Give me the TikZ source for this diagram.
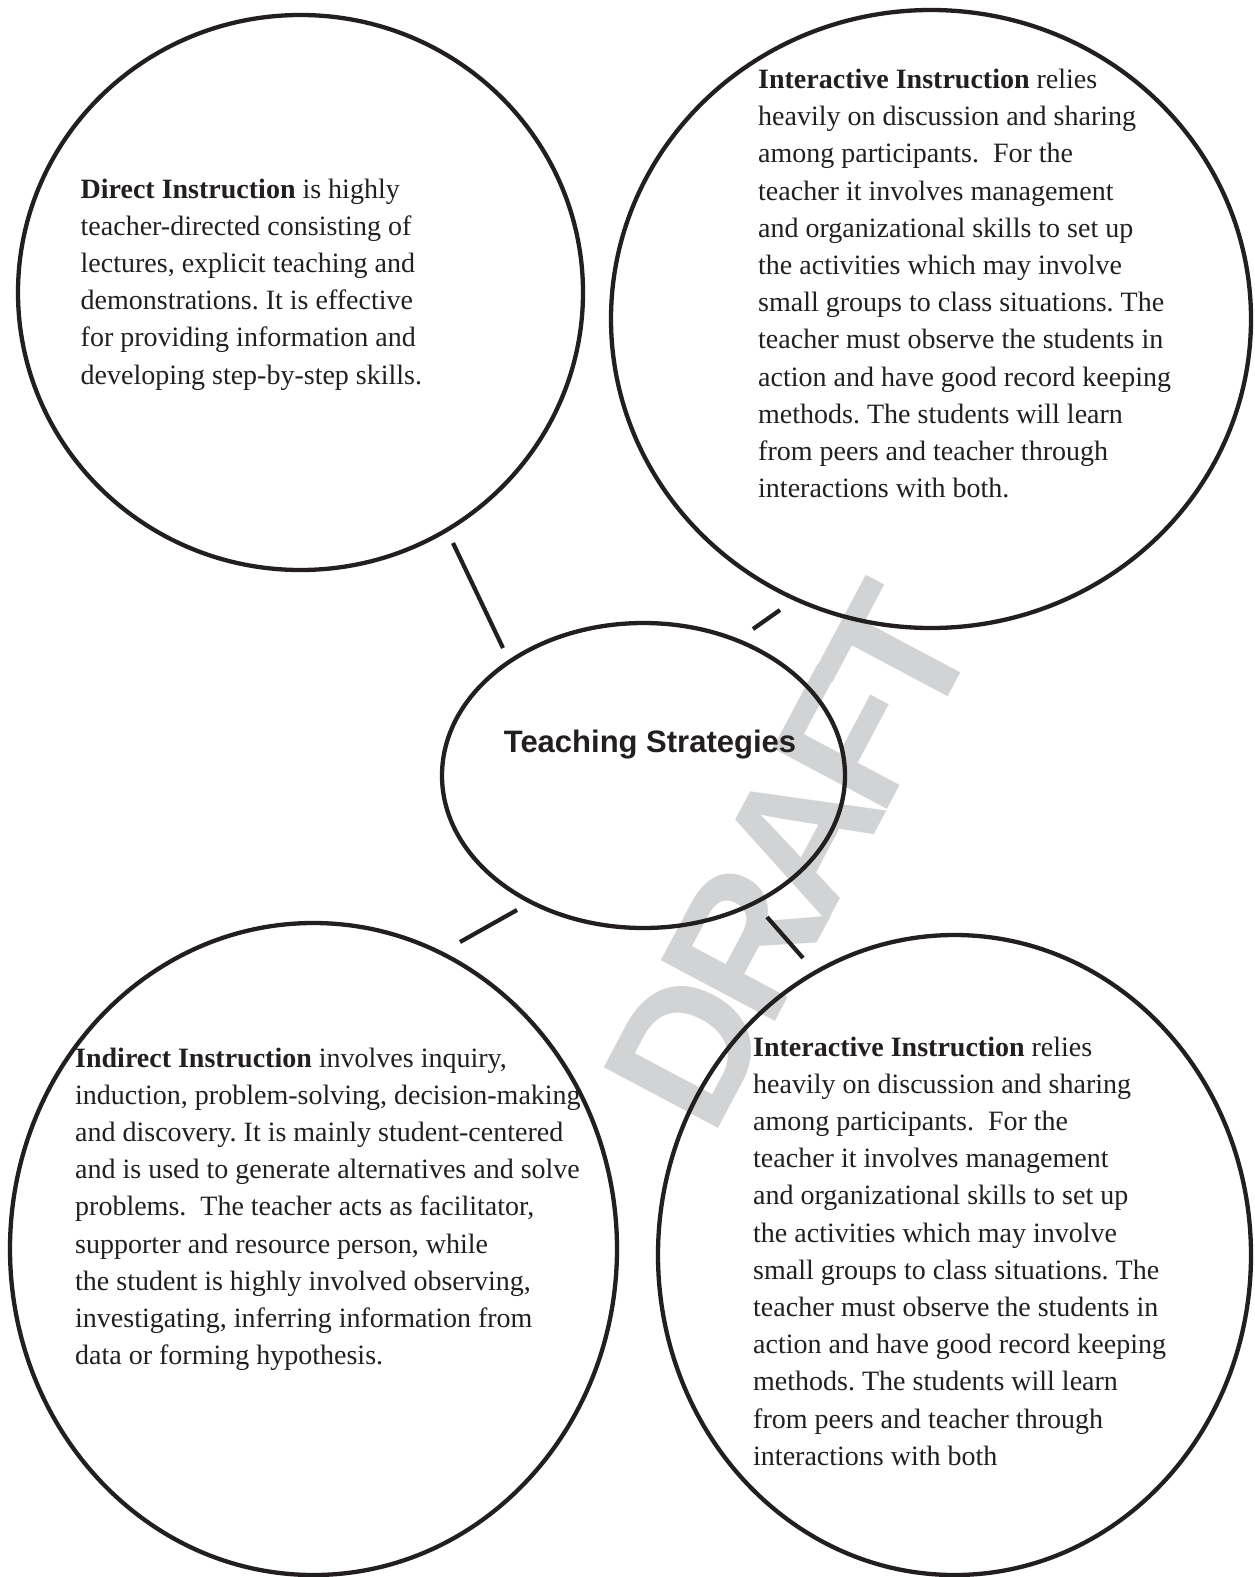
\documentclass[tikz,border=0pt]{standalone}
\usepackage{fontspec}
\setmainfont{Liberation Serif}
\newfontfamily\hvfont{Liberation Sans}
\usetikzlibrary{shapes.geometric}
\definecolor{ink}{RGB}{35,31,32}
\definecolor{wmgray}{RGB}{209,211,212}
\newcommand{\txtblock}[1]{\begin{tabular}[t]{@{}l@{}}#1\end{tabular}}
\frenchspacing
\begin{document}
\begin{tikzpicture}[x=1pt,y=-1pt,
  ell/.style={ellipse, draw=ink, line width=4.3pt, inner sep=0pt},
  conn/.style={draw=ink, line width=4.2pt},
  body/.style={anchor=base west, inner sep=0pt, text=ink, font=\fontsize{28}{37.2}\selectfont},
  wmark/.style={rotate=62, anchor=base west, inner sep=0pt, text=wmgray, font=\hvfont\bfseries\fontsize{188}{188}\selectfont},
  titlestyle/.style={anchor=base, inner sep=0pt, text=ink, font=\hvfont\bfseries\fontsize{31}{31}\selectfont}]
\useasboundingbox (0,0) rectangle (1254,1577);
\fill[white] (0,0) rectangle (1254,1577);
% watermark
\node[wmark] (wm) at (712,1140) {D\kern-14pt R\kern-16pt A\kern-16pt F\kern-18pt T};
% ellipses
\node[ell, minimum width=565pt, minimum height=555pt] (tl) at (300.5,292.5) {};
\node[ell, minimum width=640pt, minimum height=618pt] (tr) at (931,319) {};
\node[ell, minimum width=403pt, minimum height=305pt] (ctr) at (643.5,775.5) {};
\node[ell, minimum width=607pt, minimum height=652pt] (bl) at (313.5,1249) {};
\node[ell, minimum width=593pt, minimum height=640pt] (br) at (954.5,1255) {};
% title
\node[titlestyle] (title) at (650,752) {Teaching Strategies};
% connectors
\coordinate (c1a) at (453,543); \coordinate (c1b) at (503,648);
\coordinate (c2a) at (753,629); \coordinate (c2b) at (780,610);
\coordinate (c3a) at (460,942); \coordinate (c3b) at (517,910);
\coordinate (c4a) at (767,917); \coordinate (c4b) at (803,958);
\draw[conn] (c1a) -- (c1b);
\draw[conn] (c2a) -- (c2b);
\draw[conn] (c3a) -- (c3b);
\draw[conn] (c4a) -- (c4b);
% texts
\node[body] (tltxt) at (80.5,198) {\txtblock{\textbf{Direct Instruction} is highly\\
teacher-directed consisting of\\
lectures, explicit teaching and\\
demonstrations. It is effective\\
for providing information and\\
developing step-by-step skills.}};
\node[body] (trtxt) at (758,88.5) {\txtblock{\textbf{Interactive Instruction} relies\\
heavily on discussion and sharing\\
among participants.\ \ For the\\
teacher it involves management\\
and organizational skills to set up\\
the activities which may involve\\
small groups to class situations. The\\
teacher must observe the students in\\
action and have good record keeping\\
methods. The students will learn\\
from peers and teacher through\\
interactions with both.}};
\node[body] (bltxt) at (75,1067) {\txtblock{\textbf{Indirect Instruction} involves inquiry,\\
induction, problem-solving, decision-making\\
and discovery. It is mainly student-centered\\
and is used to generate alternatives and solve\\
problems.\ \ The teacher acts as facilitator,\\
supporter and resource person, while\\
the student is highly involved observing,\\
investigating, inferring information from\\
data or forming hypothesis.}};
\node[body] (brtxt) at (753,1056) {\txtblock{\textbf{Interactive Instruction} relies\\
heavily on discussion and sharing\\
among participants.\ \ For the\\
teacher it involves management\\
and organizational skills to set up\\
the activities which may involve\\
small groups to class situations. The\\
teacher must observe the students in\\
action and have good record keeping\\
methods. The students will learn\\
from peers and teacher through\\
interactions with both}};
\end{tikzpicture}
\end{document}
